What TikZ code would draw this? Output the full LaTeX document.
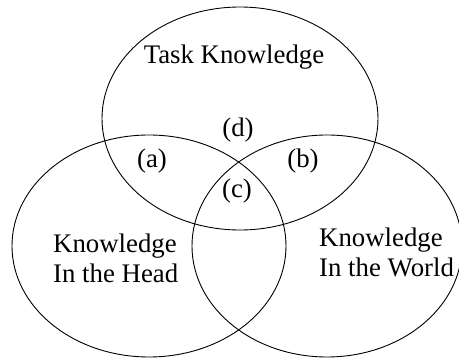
\documentclass[tikz,border=0pt]{standalone}
\usepackage{fontspec}
\setmainfont{Liberation Serif}
\begin{document}
\begin{tikzpicture}[x=1pt,y=-1pt,
  ring/.style={draw=black,line width=0.9pt},
  lbl/.style={inner sep=0pt,font=\fontsize{26.8}{30}\selectfont}]
\useasboundingbox (0,0) rectangle (459,358);
\draw[ring] (240,118.5) ellipse [x radius=138, y radius=111.5];
\draw[ring] (149,246) ellipse [x radius=137, y radius=111];
\draw[ring] (327,246) ellipse [x radius=135, y radius=111];
\node[lbl,anchor=base] (task) at (234,64) {Task Knowledge};
\node[lbl,anchor=base] (d) at (238,137) {(d)};
\node[lbl,anchor=base] (a) at (152,168) {(a)};
\node[lbl,anchor=base] (b) at (303,168) {(b)};
\node[lbl,anchor=base] (c) at (237,198) {(c)};
\node[lbl,anchor=base west,align=left] (head) at (53,283) {Knowledge\\In the Head};
\node[lbl,anchor=base west,align=left] (world) at (319,277) {Knowledge\\In the World};
\end{tikzpicture}
\end{document}
